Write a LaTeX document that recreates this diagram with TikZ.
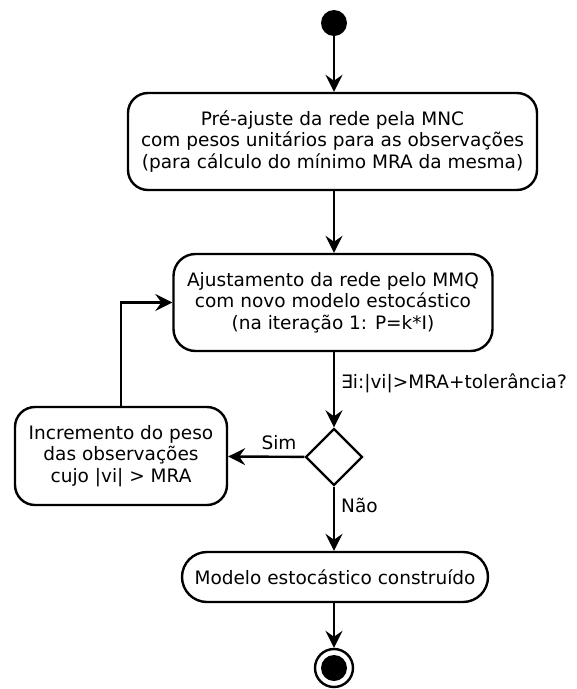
\documentclass[tikz,border=0pt]{standalone}
\usepackage{fontspec}
\setmainfont{DejaVu Sans}
\usetikzlibrary{shapes.geometric,arrows.meta}

\tikzset{
  action/.style={draw, line width=2.4pt, rounded corners=20pt, align=center,
    inner sep=0pt, font=\fontsize{18.5}{21.5}\selectfont},
  flow/.style={line width=2.4pt, -{Stealth[length=17pt,width=17pt,inset=6pt]}},
  lbl/.style={font=\fontsize{18.5}{21.5}\selectfont, inner sep=1pt}
}

\begin{document}
\begin{tikzpicture}[x=1pt,y=-1pt]
        \useasboundingbox (0,0) rectangle (577,689);

        % Start and end states
        \node[circle, fill, minimum size=26pt, inner sep=0pt] (start) at (334,23) {};
        \node[circle, draw, line width=2.4pt, minimum size=38pt, inner sep=0pt] (stop) at (334,668) {};
        \fill (stop) circle (13pt);

        % Activities
        \node[action, minimum width=409pt, minimum height=97pt] (preajuste) at (332.5,141.5)
          {Pré-ajuste da rede pela MNC\\com pesos unitários para as observações\\(para cálculo do mínimo MRA da mesma)};
        \node[action, rounded corners=22pt, minimum width=319pt, minimum height=97pt] (ajuste) at (333,302.5)
          {Ajustamento da rede pelo MMQ\\com novo modelo estocástico\\(na iteração 1: P=k*I)};
        \node[action, minimum width=212pt, minimum height=98pt] (incremento) at (121,456)
          {Incremento do peso\\das observações\\cujo |vi| > MRA};
        \node[action, rounded corners=25pt, minimum width=306pt, minimum height=50pt] (modelo) at (335,577)
          {Modelo estocástico construído};

        % Decision
        \node[diamond, draw, line width=2.4pt, minimum size=57pt, inner sep=0pt] (teste) at (334,457) {};

        % Connectors
        \draw[flow] (start) -- (start |- preajuste.north);
        \draw[flow] (preajuste.south -| start) -- (start |- ajuste.north);
        \draw[flow] (ajuste.south -| teste) -- (teste);
        \draw[flow] (teste) -- (incremento);
        \draw[flow] (teste) -- (teste |- modelo.north);
        \draw[flow] (modelo.south -| stop) -- (stop);
        \draw[flow] (incremento.north) |- (ajuste.west);

        % Labels
        \node[lbl, anchor=west] (cond) at (340,383) {∃i:|vi|>MRA+tolerância?};
        \node[lbl, anchor=south] (sim) at (279,451) {Sim};
        \node[lbl, anchor=west] (nao) at (340,505) {Não};
    \end{tikzpicture}
\end{document}
